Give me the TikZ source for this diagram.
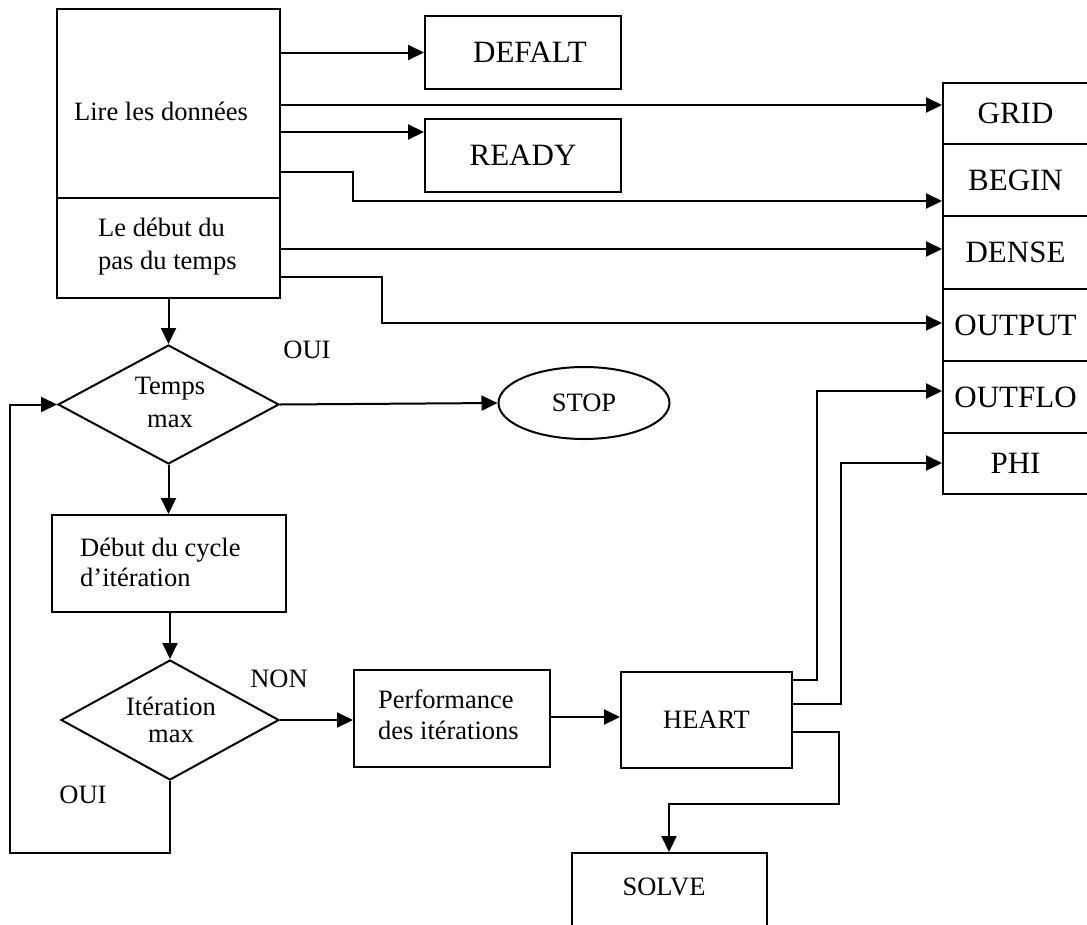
\documentclass[tikz,border=0pt]{standalone}
\usepackage{fontspec}
\setmainfont{Liberation Serif}
\usetikzlibrary{arrows.meta,shapes.geometric,calc}
\begin{document}
\begin{tikzpicture}[x=1pt,y=-1pt,
  box/.style={draw,rectangle,inner sep=0pt,line width=2pt},
  dia/.style={draw,diamond,inner sep=0pt,line width=2pt},
  sm/.style={font=\fontsize{26.5}{32}\selectfont,inner sep=0pt},
  bg/.style={font=\fontsize{31}{37}\selectfont,inner sep=0pt},
  arr/.style={line width=2pt,-{Triangle[length=16pt,width=15pt]}},
  ln/.style={line width=2pt}]
\useasboundingbox (0,0) rectangle (1087,924);
\clip (0,0) rectangle (1087,924);

% top box
\node[box,minimum width=223pt,minimum height=289pt] (top) at (168.5,153.5) {};
\draw[ln] (top.west |- 0,198) -- (top.east |- 0,198);
\node[sm] (lire) at (161,111) {Lire les données};
\node[sm,align=left,anchor=west,font=\fontsize{26.5}{33}\selectfont] (debut) at (98,247) {Le début du\\pas du temps};

% DEFALT / READY
\node[box,bg,minimum width=196pt,minimum height=73pt] (dft) at (523,52.5) {\hspace*{14pt}DEFALT};
\node[box,bg,minimum width=196pt,minimum height=73pt] (rdy) at (523,155.5) {READY};

% right column
\node[box,bg,minimum width=145pt,minimum height=61pt] (grid) at (1015.5,113.5) {GRID};
\node[box,bg,minimum width=145pt,minimum height=72pt] (begin) at (1015.5,180) {BEGIN};
\node[box,bg,minimum width=145pt,minimum height=73pt] (dense) at (1015.5,252.5) {DENSE};
\node[box,bg,minimum width=145pt,minimum height=72pt] (output) at (1015.5,325) {OUTPUT};
\node[box,bg,minimum width=145pt,minimum height=72pt] (outflo) at (1015.5,397) {OUTFLO};
\node[box,bg,minimum width=145pt,minimum height=61pt] (phi) at (1015.5,463.5) {PHI};

% decision 1
\node[dia,minimum width=221pt,minimum height=119pt] (d1) at (168.5,404.5) {};
\node[sm,align=center,font=\fontsize{26.5}{33}\selectfont] (d1t) at (170,402.5) {Temps\\max};
\node[draw,ellipse,sm,line width=2pt,minimum width=171pt,minimum height=72pt] (stop) at (584,403) {STOP};
\node[sm] (oui1) at (307,350) {OUI};

% cycle box
\node[box,minimum width=234pt,minimum height=97pt] (cyc) at (169,563.5) {};
\node[sm,align=left,anchor=west,font=\fontsize{26.5}{30}\selectfont] (cyct) at (80,562.5) {Début du cycle\\d’itération};

% decision 2
\node[dia,minimum width=218pt,minimum height=120pt] (d2) at (170,720) {};
\node[sm,align=center,font=\fontsize{26.5}{27}\selectfont] (d2t) at (171,719.5) {Itération\\max};
\node[sm] (non) at (279,679) {NON};
\node[sm] (oui2) at (83,795) {OUI};

% performance, heart, solve
\node[box,minimum width=196pt,minimum height=97pt] (perf) at (452,718.5) {};
\node[sm,align=left,anchor=west,font=\fontsize{26.5}{31}\selectfont] (perft) at (378,715) {Performance\\des itérations};
\node[box,sm,minimum width=171pt,minimum height=96pt] (heart) at (706.5,720) {HEART};
\node[box,minimum width=195pt,minimum height=82pt] (solve) at (669.5,894) {};
\node[sm] (solvet) at (664,887) {SOLVE};

\coordinate (lp) at (10,853);

% connectors from top box
\draw[arr] (top.east |- dft.west) -- (dft.west);
\draw[arr] (top.east |- 0,105) -- (grid.west |- 0,105);
\draw[arr] (top.east |- 0,132) -- (rdy.west |- 0,132);
\draw[arr] (top.east |- 0,172) -- (353,172) |- (begin.west |- 0,201);
\draw[arr] (top.east |- 0,249) -- (dense.west |- 0,249);
\draw[arr] (top.east |- 0,277) -- (382,277) |- (output.west |- 0,323);

% main flow
\draw[arr] (top.south) -- (d1.north);
\draw[arr] (d1.east) -- (stop.west);
\draw[arr] (d1.south) -- (cyc.north -| d1.south);
\draw[arr] (cyc.south -| d2.north) -- (d2.north);
\draw[arr] (d2.east) -- (perf.west |- d2.east);
\draw[arr] (perf.east |- 0,717) -- (heart.west |- 0,717);
\draw[arr] (d2.south) |- (lp) |- (d1.west);

% heart outputs
\draw[arr] (heart.east |- 0,680) -- (817,680) |- (outflo.west |- 0,391);
\draw[arr] (heart.east |- 0,704) -- (841,704) |- (phi.west |- 0,463);
\draw[arr] (heart.east |- 0,732) -- (839,732) -- (839,804) -| (solve.north -| 669,0);
\end{tikzpicture}
\end{document}
